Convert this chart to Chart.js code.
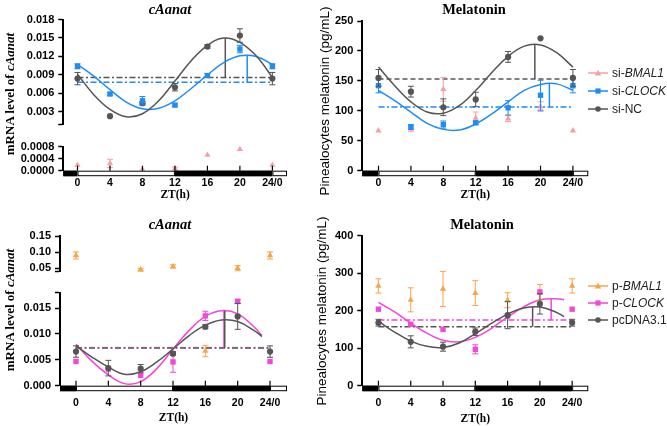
<!DOCTYPE html>
<html>
<head>
<meta charset="utf-8">
<script src="https://cdn.jsdelivr.net/npm/chart.js@4.4.1/dist/chart.umd.min.js"></script>
<style>
  body { margin: 0; background: #fff; width: 667px; height: 426px; position: relative; overflow: hidden;
         font-family: 'Liberation Sans', Arial, sans-serif; }
  canvas { position: absolute; }
  .txt { position: absolute; white-space: nowrap; transform: translate(-50%, -50%); color: #000; line-height: 1; }
  .serif { font-family: 'Liberation Serif', 'Times New Roman', serif; font-weight: bold; }
  .ttl { font-size: 14.5px; }
  .ytl { font-size: 13px; transform: translate(-50%, -50%) rotate(-90deg); }
  .ytr { font-size: 13.5px; transform: translate(-50%, -50%) rotate(-90deg); }
  .leg { position: absolute; left: 588px; font-size: 12px; color: #222; white-space: nowrap; line-height: 1;
         transform: translateY(-50%); display: flex; align-items: center; }
  .leg svg { margin-right: 4px; }
</style>
</head>
<body>
<canvas id="tlUp"></canvas>
<canvas id="tlLow"></canvas>
<canvas id="tr"></canvas>
<canvas id="blUp"></canvas>
<canvas id="blLow"></canvas>
<canvas id="br"></canvas>

<div class="txt serif ttl" style="left:170px;top:8.5px"><i>cAanat</i></div>
<div class="txt serif ttl" style="left:474px;top:8.5px">Melatonin</div>
<div class="txt serif ttl" style="left:170px;top:223.5px"><i>cAanat</i></div>
<div class="txt serif ttl" style="left:482px;top:223.5px">Melatonin</div>
<div class="txt serif ytl" style="left:9px;top:94px">mRNA level of <i>cAanat</i></div>
<div class="txt serif ytl" style="left:9px;top:310px">mRNA level of <i>cAanat</i></div>
<div class="txt ytr" style="left:325px;top:101px">Pinealocytes melatonin (pg/mL)</div>
<div class="txt ytr" style="left:322px;top:311px">Pinealocytes melatonin (pg/mL)</div>

<div id="legends"></div>

<script>
// x axis (Zeitgeber time)
const ZT = [0, 4, 8, 12, 16, 20, 24];
const X_TICKS = [0, 4, 8, 12, 16, 20, 24];
const X_TICK_LABELS = ['0', '4', '8', '12', '16', '20', '24/0'];
const LD_EDGES = [0, 12, 24];
const MESOR_SPAN = [0, 24];
const FIT_T_TOP = [0, 2, 4, 6, 8, 10, 12, 14, 16, 18, 20, 22, 24];
const FIT_T_BOT = [0, 2, 4, 6, 8, 10, 12, 14, 16, 18, 20, 22, 23];

// y ticks
const TL_UP_TICKS = [0.001, 0.003, 0.006, 0.009, 0.012, 0.015, 0.018];
const TL_UP_LABELS = ['', '0.003', '0.006', '0.009', '0.012', '0.015', '0.018'];
const TL_LOW_TICKS = [0, 0.0004, 0.0008];
const TL_LOW_LABELS = ['0.0000', '0.0004', '0.0008'];
const TR_TICKS = [0, 50, 100, 150, 200, 250];
const TR_LABELS = ['0', '50', '100', '150', '200', '250'];
const BL_UP_TICKS = [0.04, 0.05, 0.10, 0.15];
const BL_UP_LABELS = ['', '0.05', '0.10', '0.15'];
const BL_LOW_TICKS = [0, 0.005, 0.010, 0.015, 0.018];
const BL_LOW_LABELS = ['0.000', '0.005', '0.010', '0.015', ''];
const BR_TICKS = [0, 100, 200, 300, 400];
const BR_LABELS = ['0', '100', '200', '300', '400'];
const BL_BREAK = 0.02;

// top left: cAanat, siRNA
const SI_NC_AANAT = [0.0084, 0.0023, 0.0044, 0.0070, 0.0136, 0.0154, 0.0084];
const SI_NC_AANAT_ERR = [0.0010, 0.0001, 0.0003, 0.0006, 0.0003, 0.0011, 0.0010];
const SI_CLOCK_AANAT = [0.0104, 0.0059, 0.0048, 0.0041, 0.0089, 0.0132, 0.0104];
const SI_CLOCK_AANAT_ERR = [0.0004, 0.0002, 0.0007, 0.0002, 0.0003, 0.0006, 0.0004];
const SI_BMAL1_AANAT = [0.00019, 0.00024, 0.00004, 0.00007, 0.00052, 0.00071, 0.00019];
const SI_BMAL1_AANAT_ERR = [0, 0.00014, 0, 0.00005, 0, 0, 0];
const SI_NC_AANAT_FIT = [0.0091, 0.0058, 0.0034, 0.0022, 0.0027, 0.0048, 0.0080, 0.0113, 0.0138, 0.0150, 0.0143, 0.0121, 0.0086];
const SI_CLOCK_AANAT_FIT = [0.0107, 0.0088, 0.0066, 0.0046, 0.0035, 0.0036, 0.0048, 0.0068, 0.0090, 0.0110, 0.0121, 0.0120, 0.0107];
const SI_AANAT_MESOR = [0.0086, 0.0078];     // NC, CLOCK
const SI_AANAT_PHASE = [18.2, 20.9];
const SI_AANAT_PEAK = [0.01495, 0.01225];

// top right: melatonin, siRNA
const SI_NC_MLT = [155, 132, 106, 119, 190, 221, 155];
const SI_NC_MLT_ERR = [14, 9, 14, 12, 9, 0, 14];
const SI_CLOCK_MLT = [142, 73, 77, 80, 105, 126, 142];
const SI_CLOCK_MLT_ERR = [12, 4, 6, 3, 12, 25, 12];
const SI_BMAL1_MLT = [67, 70, 136, 88, 87, 107, 67];
const SI_BMAL1_MLT_ERR = [0, 4, 20, 10, 5, 8, 0];
const SI_NC_MLT_FIT = [173, 142, 115, 98, 96, 109, 134, 164, 191, 208, 210, 197, 173];
const SI_CLOCK_MLT_FIT = [134, 117, 98, 79, 69, 68, 78, 95, 115, 134, 144, 145, 134];
const SI_MLT_MESOR = [153, 106.5];
const SI_MLT_PHASE = [19.3, 21.1];
const SI_MLT_PEAK = [211, 145];

// bottom left: cAanat, overexpression
const P_NC_AANAT = [0.0066, 0.0034, 0.0033, 0.0062, 0.0114, 0.0134, 0.0066];
const P_NC_AANAT_ERR = [0.0011, 0.0015, 0.0008, 0.0003, 0.0004, 0.0025, 0.0011];
const P_CLOCK_AANAT = [0.0047, 0.0032, 0.0020, 0.0046, 0.0135, 0.0163, 0.0047];
const P_CLOCK_AANAT_ERR = [0, 0, 0, 0.0020, 0.0009, 0.0004, 0];
const P_BMAL1_AANAT = [0.0895, null, 0.0455, 0.0555, 0.0067, 0.050, 0.0895];
const P_BMAL1_AANAT_ERR = [0.011, 0, 0.004, 0.005, 0.0011, 0.008, 0.011];
const P_NC_AANAT_FIT = [0.0077, 0.0055, 0.0036, 0.0022, 0.0027, 0.0046, 0.0071, 0.0097, 0.0117, 0.0127, 0.0124, 0.0107, 0.0095];
const P_CLOCK_AANAT_FIT = [0.0080, 0.0047, 0.0021, 0.0004, 0.0008, 0.0033, 0.0071, 0.0107, 0.0134, 0.0145, 0.0139, 0.0114, 0.0097];
const P_AANAT_MESOR = [0.0073, 0.0074];
const P_AANAT_PHASE = [18.4, 18.3];
const P_AANAT_PEAK = [0.0145, 0.0145];

// bottom right: melatonin, overexpression
const P_NC_MLT = [168, 117, 104, 144, 188, 218, 168];
const P_NC_MLT_ERR = [9, 16, 12, 10, 36, 27, 9];
const P_CLOCK_MLT = [204, 164, 150, 97, 186, 250, 204];
const P_CLOCK_MLT_ERR = [0, 0, 0, 12, 0, 0, 0];
const P_BMAL1_MLT = [266, 229, 258, 247, 228, 249, 266];
const P_BMAL1_MLT_ERR = [19, 32, 47, 33, 20, 21, 19];
const P_NC_MLT_FIT = [172, 143, 119, 105, 102, 114, 139, 166, 191, 207, 210, 196, 184];
const P_CLOCK_MLT_FIT = [222, 197, 167, 140, 121, 117, 129, 153, 183, 210, 229, 232, 229];
const P_MLT_MESOR = [157, 175];
const P_MLT_PHASE = [19.1, 21.4];
const P_MLT_PEAK = [210, 233];

const GRAY = '#555555';
const BLUE = '#1E8CF5';
const LIGHT_RED = '#F5A0A4';
const ORANGE = '#F8A446';
const MAGENTA = '#F545DA';
const SANS = "'Liberation Sans', Arial, sans-serif";
const SERIF = "'Liberation Serif', 'Times New Roman', serif";
const DASH_DOT = [6, 2.5, 2, 2.5];

function points(xs, ys, errs, keep) {
    return xs.map((x, i) => ({ x: x, y: ys[i], e: errs ? errs[i] : 0 }))
        .filter(p => p.y !== null && (!keep || keep(p.y)));
}

function markers(color, style, ys, errs, keep) {
    return {
        data: points(ZT, ys, errs, keep),
        showLine: false,
        errorBars: true,
        pointStyle: style,
        pointRadius: style === 'rect' ? 3.8 : (style === 'triangle' ? 3.6 : 3.1),
        pointBackgroundColor: color,
        pointBorderColor: color,
        pointBorderWidth: 0,
        borderColor: color,
        clip: false
    };
}

function fitCurve(color, ts, ys) {
    return { data: points(ts, ys), borderColor: color, borderWidth: 1.5, pointRadius: 0, tension: 0.4 };
}

function mesorLine(color, m, dash) {
    return {
        data: MESOR_SPAN.map(x => ({ x: x, y: m })),
        borderColor: color, borderWidth: 1.5, borderDash: dash, pointRadius: 0
    };
}

function phaseLine(color, t, m, peak) {
    return {
        data: [{ x: t, y: m }, { x: t, y: peak }],
        borderColor: color, borderWidth: 1.5, pointRadius: 0
    };
}

// error bars drawn just before each dataset's own markers
const errorBarPlugin = {
    id: 'errorBars',
    beforeDatasetDraw(chart, args) {
        const ds = chart.data.datasets[args.index];
        if (!ds.errorBars) return;
        const y = chart.scales.y;
        const ctx = chart.ctx;
        ctx.save();
        ctx.strokeStyle = ds.borderColor;
        ctx.lineWidth = 1;
        args.meta.data.forEach((el, j) => {
            const raw = ds.data[j];
            if (!raw.e) return;
            const top = y.getPixelForValue(raw.y + raw.e);
            const bot = y.getPixelForValue(raw.y - raw.e);
            ctx.beginPath();
            ctx.moveTo(el.x, top); ctx.lineTo(el.x, bot);
            ctx.moveTo(el.x - 3, top); ctx.lineTo(el.x + 3, top);
            ctx.moveTo(el.x - 3, bot); ctx.lineTo(el.x + 3, bot);
            ctx.stroke();
        });
        ctx.restore();
    }
};

// light / dark bar along the x axis, plus inward tick marks
const ldBarPlugin = {
    id: 'ldBar',
    afterDraw(chart) {
        const x = chart.scales.x;
        const b = chart.chartArea.bottom;
        const ctx = chart.ctx;
        const edges = [x.min].concat(LD_EDGES, [x.max]);
        ctx.save();
        ctx.strokeStyle = '#000';
        ctx.lineWidth = 1;
        for (let i = 0; i < edges.length - 1; i++) {
            const x0 = x.getPixelForValue(edges[i]);
            const x1 = x.getPixelForValue(edges[i + 1]);
            ctx.fillStyle = i % 2 === 0 ? '#000' : '#fff';
            ctx.fillRect(x0, b, x1 - x0, 5.5);
            ctx.strokeRect(x0 + 0.5, b + 0.5, x1 - x0 - 1, 4.5);
        }
        ctx.lineWidth = 1.2;
        X_TICKS.forEach(v => {
            const px = x.getPixelForValue(v);
            ctx.beginPath();
            ctx.moveTo(px, b - 5);
            ctx.lineTo(px, b);
            ctx.stroke();
        });
        ctx.restore();
    }
};

function makePanel(id, box, area, cfg) {
    const cv = document.getElementById(id);
    cv.width = box.w;
    cv.height = box.h;
    cv.style.left = box.x + 'px';
    cv.style.top = box.y + 'px';
    const showX = !!cfg.showX;
    const xHeight = box.y + box.h - area.b;

    return new Chart(cv, {
        type: 'line',
        data: { datasets: cfg.datasets },
        options: {
            responsive: false,
            animation: false,
            devicePixelRatio: 1,
            layout: {
                padding: {
                    left: 0,
                    top: area.t - box.y,
                    right: box.x + box.w - area.r,
                    bottom: showX ? 0 : xHeight
                }
            },
            plugins: {
                legend: { display: false },
                tooltip: { enabled: false },
                ldBar: showX ? {} : false
            },
            scales: {
                x: {
                    type: 'linear',
                    min: cfg.xMin,
                    max: cfg.xMax,
                    display: showX,
                    grid: { display: false, drawTicks: false },
                    border: { display: false },
                    afterBuildTicks: s => { s.ticks = X_TICKS.map(v => ({ value: v })); },
                    afterFit: s => { s.height = xHeight; },
                    ticks: {
                        autoSkip: false,
                        maxRotation: 0,
                        padding: cfg.xPad,
                        color: '#000',
                        font: { family: SANS, size: 10.5, weight: 'bold' },
                        callback: (v, i) => X_TICK_LABELS[i]
                    },
                    title: {
                        display: true,
                        text: 'ZT(h)',
                        color: '#000',
                        font: { family: SERIF, size: 11.5, weight: 'bold' },
                        padding: { top: 0, bottom: cfg.titlePad }
                    }
                },
                y: {
                    min: cfg.yTicks[0],
                    max: cfg.yTicks[cfg.yTicks.length - 1],
                    afterFit: s => { s.width = area.l - box.x; },
                    afterBuildTicks: s => { s.ticks = cfg.yTicks.map(v => ({ value: v })); },
                    grid: {
                        display: true,
                        drawOnChartArea: false,
                        drawTicks: true,
                        tickLength: 5,
                        tickWidth: 1.5,
                        tickColor: '#000'
                    },
                    border: { display: true, color: '#000', width: 2 },
                    ticks: {
                        autoSkip: false,
                        padding: 4,
                        color: '#000',
                        font: { family: SANS, size: 11, weight: 'bold' },
                        callback: (v, i) => cfg.yLabels[i]
                    }
                }
            }
        },
        plugins: [errorBarPlugin, ldBarPlugin]
    });
}

// top left, upper segment
makePanel('tlUp', { x: 0, y: 0, w: 330, h: 138 }, { l: 63.3, t: 19.5, r: 287, b: 131.1 }, {
    xMin: -1.75, xMax: 25.8, yTicks: TL_UP_TICKS, yLabels: TL_UP_LABELS,
    datasets: [
        markers(BLUE, 'rect', SI_CLOCK_AANAT, SI_CLOCK_AANAT_ERR),
        markers(GRAY, 'circle', SI_NC_AANAT, SI_NC_AANAT_ERR),
        fitCurve(GRAY, FIT_T_TOP, SI_NC_AANAT_FIT),
        fitCurve(BLUE, FIT_T_TOP, SI_CLOCK_AANAT_FIT),
        phaseLine(GRAY, SI_AANAT_PHASE[0], SI_AANAT_MESOR[0], SI_AANAT_PEAK[0]),
        phaseLine(BLUE, SI_AANAT_PHASE[1], SI_AANAT_MESOR[1], SI_AANAT_PEAK[1]),
        mesorLine(GRAY, SI_AANAT_MESOR[0], DASH_DOT),
        mesorLine(BLUE, SI_AANAT_MESOR[1], DASH_DOT)
    ]
});

// top left, lower segment
makePanel('tlLow', { x: 0, y: 136, w: 330, h: 74 }, { l: 63.3, t: 143.5, r: 287, b: 170.7 }, {
    showX: true, xPad: 6.3, titlePad: 8,
    xMin: -1.75, xMax: 25.8, yTicks: TL_LOW_TICKS, yLabels: TL_LOW_LABELS,
    datasets: [
        markers(LIGHT_RED, 'triangle', SI_BMAL1_AANAT, SI_BMAL1_AANAT_ERR)
    ]
});

// top right
makePanel('tr', { x: 330, y: 0, w: 337, h: 210 }, { l: 362.3, t: 21, r: 588.3, b: 170.7 }, {
    showX: true, xPad: 6.3, titlePad: 8.4,
    xMin: -2, xMax: 25.9, yTicks: TR_TICKS, yLabels: TR_LABELS,
    datasets: [
        markers(GRAY, 'circle', SI_NC_MLT, SI_NC_MLT_ERR),
        markers(BLUE, 'rect', SI_CLOCK_MLT, SI_CLOCK_MLT_ERR),
        markers(LIGHT_RED, 'triangle', SI_BMAL1_MLT, SI_BMAL1_MLT_ERR),
        fitCurve(GRAY, FIT_T_TOP, SI_NC_MLT_FIT),
        fitCurve(BLUE, FIT_T_TOP, SI_CLOCK_MLT_FIT),
        phaseLine(GRAY, SI_MLT_PHASE[0], SI_MLT_MESOR[0], SI_MLT_PEAK[0]),
        phaseLine(BLUE, SI_MLT_PHASE[1], SI_MLT_MESOR[1], SI_MLT_PEAK[1]),
        mesorLine(GRAY, SI_MLT_MESOR[0], [5, 3]),
        mesorLine(BLUE, SI_MLT_MESOR[1], DASH_DOT)
    ]
});

// bottom left, upper segment
makePanel('blUp', { x: 0, y: 212, w: 330, h: 70 }, { l: 60, t: 236, r: 287, b: 277 }, {
    xMin: -1.98, xMax: 26.1, yTicks: BL_UP_TICKS, yLabels: BL_UP_LABELS,
    datasets: [
        markers(ORANGE, 'triangle', P_BMAL1_AANAT, P_BMAL1_AANAT_ERR, v => v > BL_BREAK)
    ]
});

// bottom left, lower segment
makePanel('blLow', { x: 0, y: 282, w: 330, h: 144 }, { l: 60, t: 288.8, r: 287, b: 385.7 }, {
    showX: true, xPad: 11.3, titlePad: 0.9,
    xMin: -1.98, xMax: 26.1, yTicks: BL_LOW_TICKS, yLabels: BL_LOW_LABELS,
    datasets: [
        markers(GRAY, 'circle', P_NC_AANAT, P_NC_AANAT_ERR),
        markers(MAGENTA, 'rect', P_CLOCK_AANAT, P_CLOCK_AANAT_ERR),
        markers(ORANGE, 'triangle', P_BMAL1_AANAT, P_BMAL1_AANAT_ERR, v => v <= BL_BREAK),
        phaseLine(GRAY, P_AANAT_PHASE[0], P_AANAT_MESOR[0], P_AANAT_PEAK[0]),
        fitCurve(GRAY, FIT_T_BOT, P_NC_AANAT_FIT),
        fitCurve(MAGENTA, FIT_T_BOT, P_CLOCK_AANAT_FIT),
        phaseLine(MAGENTA, P_AANAT_PHASE[1], P_AANAT_MESOR[1], P_AANAT_PEAK[1]),
        mesorLine(GRAY, P_AANAT_MESOR[0], DASH_DOT),
        mesorLine('rgba(245,69,218,0.6)', P_AANAT_MESOR[1], DASH_DOT)
    ]
});

// bottom right
makePanel('br', { x: 330, y: 212, w: 337, h: 214 }, { l: 362.3, t: 235.7, r: 588.3, b: 385.7 }, {
    showX: true, xPad: 11.3, titlePad: 0.1,
    xMin: -2, xMax: 26, yTicks: BR_TICKS, yLabels: BR_LABELS,
    datasets: [
        markers(GRAY, 'circle', P_NC_MLT, P_NC_MLT_ERR),
        markers(MAGENTA, 'rect', P_CLOCK_MLT, P_CLOCK_MLT_ERR),
        markers(ORANGE, 'triangle', P_BMAL1_MLT, P_BMAL1_MLT_ERR),
        fitCurve(GRAY, FIT_T_BOT, P_NC_MLT_FIT),
        fitCurve(MAGENTA, FIT_T_BOT, P_CLOCK_MLT_FIT),
        phaseLine(GRAY, P_MLT_PHASE[0], P_MLT_MESOR[0], P_MLT_PEAK[0]),
        phaseLine(MAGENTA, P_MLT_PHASE[1], P_MLT_MESOR[1], P_MLT_PEAK[1]),
        mesorLine(GRAY, P_MLT_MESOR[0], DASH_DOT),
        mesorLine(MAGENTA, P_MLT_MESOR[1], DASH_DOT)
    ]
});

// legends (mixed italic text, so html)
const LEGENDS = [
    { y: 72.7, color: LIGHT_RED, shape: 'triangle', pre: 'si-', gene: 'BMAL1' },
    { y: 90.7, color: BLUE, shape: 'rect', pre: 'si-', gene: 'CLOCK' },
    { y: 108.5, color: GRAY, shape: 'circle', pre: 'si-NC', gene: '' },
    { y: 285.5, color: ORANGE, shape: 'triangle', pre: 'p-', gene: 'BMAL1' },
    { y: 302.5, color: MAGENTA, shape: 'rect', pre: 'p-', gene: 'CLOCK' },
    { y: 319.5, color: GRAY, shape: 'circle', pre: 'pcDNA3.1', gene: '' }
];

function symbolSvg(color, shape) {
    let mark;
    if (shape === 'triangle') mark = `<polygon points="10,1.8 13.2,7.6 6.8,7.6" fill="${color}"/>`;
    else if (shape === 'rect') mark = `<rect x="7.4" y="2.4" width="5.2" height="5.2" fill="${color}"/>`;
    else mark = `<circle cx="10" cy="5" r="2.8" fill="${color}"/>`;
    return `<svg width="20" height="10"><line x1="0" y1="5" x2="20" y2="5" stroke="${color}" stroke-width="1.5"/>${mark}</svg>`;
}

document.getElementById('legends').innerHTML = LEGENDS.map(l =>
    `<div class="leg" style="top:${l.y}px">${symbolSvg(l.color, l.shape)}<span>${l.pre}${l.gene ? '<i>' + l.gene + '</i>' : ''}</span></div>`
).join('');
</script>
</body>
</html>
